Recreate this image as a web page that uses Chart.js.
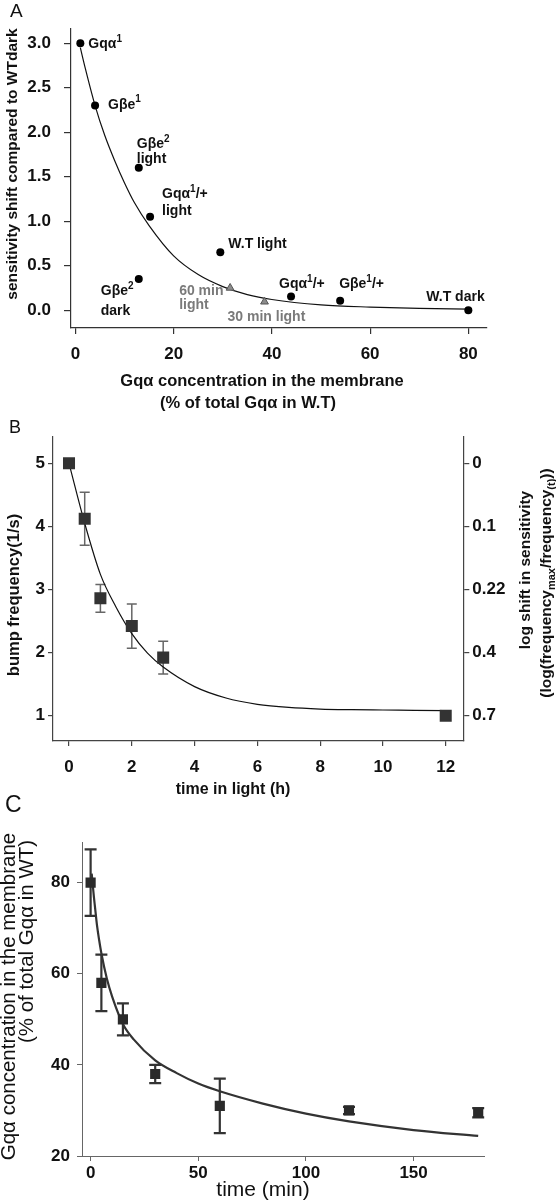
<!DOCTYPE html>
<html>
<head>
<meta charset="utf-8">
<script src="https://cdn.jsdelivr.net/npm/chart.js@4.4.0/dist/chart.umd.min.js"></script>
<style>
  html, body { margin: 0; padding: 0; background: #fff; }
  #wrap { position: relative; width: 556px; height: 1200px; overflow: hidden; }
  canvas { position: absolute; left: 0; }
</style>
</head>
<body>
<div id="wrap">
  <canvas id="chartA" width="556" height="420" style="top:0"></canvas>
  <canvas id="chartB" width="556" height="380" style="top:420px"></canvas>
  <canvas id="chartC" width="556" height="420" style="top:780px"></canvas>
</div>
<script>
/* =========================
   Data
========================= */
// A: sensitivity shift vs Gqα in the membrane
const aNames      = ['Gqα^{1}', 'Gβe^{1}', 'Gβe^{2}|light', 'Gqα^{1}/+|light', 'W.T light', 'Gβe^{2}|dark', 'Gqα^{1}/+', 'Gβe^{1}/+', 'W.T dark'];
const aConc       = [1, 4, 12.9, 15.2, 29.5, 12.9, 43.9, 53.9, 80];
const aShift      = [3.0, 2.3, 1.6, 1.05, 0.65, 0.35, 0.155, 0.105, 0.0];
const aLightNames = ['60 min|light', '30 min light'];
const aLightConc  = [31.5, 38.5];
const aLightShift = [0.25, 0.095];
const aFitConc    = [1, 2, 4, 6, 8, 10, 12, 15, 20, 25, 30, 35, 40, 50, 60, 70, 80];
const aFitShift   = [2.95, 2.72, 2.3, 1.96, 1.68, 1.43, 1.21, 0.95, 0.61, 0.4, 0.265, 0.175, 0.12, 0.06, 0.035, 0.02, 0.012];
const aXTicks     = [0, 20, 40, 60, 80];
const aYTicks     = [0, 0.5, 1, 1.5, 2, 2.5, 3];

// B: bump frequency vs time in light
const bTime     = [0, 0.5, 1, 2, 3, 12];
const bFreq     = [5.0, 4.12, 2.86, 2.42, 1.92, 1.0];
const bErr      = [0, 0.42, 0.22, 0.35, 0.26, 0.07];
const bFitTime  = [0, 0.5, 1, 1.5, 2, 2.5, 3, 4, 5, 6, 7, 8, 9, 10, 11, 12];
const bFitFreq  = [5.0, 4.05, 3.24, 2.72, 2.3, 1.99, 1.77, 1.46, 1.28, 1.18, 1.13, 1.105, 1.095, 1.09, 1.085, 1.08];
const bXTicks   = [0, 2, 4, 6, 8, 10, 12];
const bYTicks   = [1, 2, 3, 4, 5];
const bLogTicks = ['0.7', '0.4', '0.22', '0.1', '0'];

// C: Gqα in membrane vs time
const cTime    = [0, 5, 15, 30, 60, 120, 180];
const cConc    = [80, 58, 50, 38, 31, 30, 29.5];
const cErr     = [7.3, 6.2, 3.5, 2.0, 6.0, 0.8, 1.0];
const cFitTime = [0.5, 1, 1.5, 2, 3, 4, 5, 7.5, 10, 15, 20, 30, 40, 50, 60, 80, 100, 120, 150, 180];
const cFitConc = [82, 79.5, 77, 74.8, 70.5, 67.3, 64.5, 59, 55, 49, 45.6, 41, 38.2, 35.9, 34.2, 31.5, 29.3, 27.6, 25.7, 24.4];
const cXTicks  = [0, 50, 100, 150];
const cYTicks  = [20, 40, 60, 80];

const FONT   = "'Liberation Sans', Arial, sans-serif";
const FONT_N = "'Liberation Sans Narrow', 'Arial Narrow', 'Liberation Sans', sans-serif";
const UP = -Math.PI / 2;

/* =========================
   Helpers
========================= */
const pts = (xs, ys) => xs.map((x, i) => ({ x, y: ys[i] }));

// "Gqα^{1}" -> superscript, "f_{max}" -> subscript
function parse(str){
  const out = []; const re = /([\^_])\{([^}]*)\}/g; let last = 0, m;
  while ((m = re.exec(str))) {
    if (m.index > last) out.push({ t: str.slice(last, m.index) });
    out.push({ t: m[2], k: m[1] });
    last = re.lastIndex;
  }
  if (last < str.length) out.push({ t: str.slice(last) });
  return out;
}

function drawRich(ctx, str, x, y, st){
  const segs = parse(str);
  const w8 = st.weight || 'bold', fam = st.family || FONT;
  const big = `${w8} ${st.size}px ${fam}`;
  const small = `${w8} ${Math.round(st.size * 0.72)}px ${fam}`;
  let w = 0;
  segs.forEach(s => { ctx.font = s.k ? small : big; s.w = ctx.measureText(s.t).width; w += s.w; });
  ctx.save();
  ctx.translate(x, y);
  if (st.rot) ctx.rotate(st.rot);
  ctx.fillStyle = st.color || '#111';
  ctx.textAlign = 'left';
  ctx.textBaseline = st.base || 'alphabetic';
  let cx = st.align === 'center' ? -w / 2 : st.align === 'right' ? -w : 0;
  segs.forEach(s => {
    ctx.font = s.k ? small : big;
    const dy = s.k === '^' ? -st.size * 0.45 : s.k === '_' ? st.size * 0.3 : 0;
    ctx.fillText(s.t, cx, dy);
    cx += s.w;
  });
  ctx.restore();
}

function lin(min, max, ticks, o){
  return {
    type: 'linear', min, max, position: o.pos,
    afterBuildTicks: s => { s.ticks = ticks.map(v => ({ value: v })); },
    afterFit: s => { if (s.isHorizontal()) s.height = o.size; else s.width = o.size; },
    ticks: { font: o.font, color: '#111', padding: o.pad, autoSkip: false, maxRotation: 0,
             callback: o.cb || (v => v) },
    grid: { drawOnChartArea: false, drawTicks: true, tickLength: o.tl, color: o.line, lineWidth: o.lw },
    border: { color: o.line, width: o.lw }
  };
}

/* =========================
   Plugins
========================= */
const errPlugin = {
  id: 'errbars',
  beforeDatasetsDraw(chart, args, o){
    if (!o.xs) return;
    const { ctx, scales: { x, y } } = chart;
    ctx.save(); ctx.strokeStyle = o.color; ctx.lineWidth = o.width;
    o.xs.forEach((v, i) => {
      const e = o.err[i]; if (!e) return;
      const px = x.getPixelForValue(v);
      const top = y.getPixelForValue(o.ys[i] + e), bot = y.getPixelForValue(o.ys[i] - e);
      ctx.beginPath();
      ctx.moveTo(px, top); ctx.lineTo(px, bot);
      ctx.moveTo(px - o.cap, top); ctx.lineTo(px + o.cap, top);
      ctx.moveTo(px - o.cap, bot); ctx.lineTo(px + o.cap, bot);
      ctx.stroke();
    });
    ctx.restore();
  }
};

const textPlugin = {
  id: 'texts',
  afterDraw(chart, args, o){
    (o.items || []).forEach(it => drawRich(chart.ctx, it.s, it.x, it.y, it));
  }
};

// point annotations for panel A, placed relative to each point
const ptLabelPlugin = {
  id: 'ptlabels',
  afterDatasetsDraw(chart, args, o){
    const { ctx, scales: { x, y } } = chart;
    (o.sets || []).forEach(set => {
      set.names.forEach((name, i) => {
        const px = x.getPixelForValue(set.xs[i]), py = y.getPixelForValue(set.ys[i]);
        name.split('|').forEach((line, j) => {
          const [dx, dy] = set.offs[i][j];
          drawRich(ctx, line, px + dx, py + dy, { size: 14, color: set.color });
        });
      });
    });
  }
};

const base = {
  responsive: false, animation: false, events: [],
  plugins: { legend: { display: false }, tooltip: { enabled: false } }
};

/* =========================
   Panel A
========================= */
new Chart(document.getElementById('chartA'), {
  type: 'scatter',
  data: { datasets: [
    { data: pts(aConc, aShift), pointStyle: 'circle', pointRadius: 4, backgroundColor: '#000', borderWidth: 0, order: 1 },
    { data: pts(aLightConc, aLightShift), pointStyle: 'triangle', pointRadius: 4.5, backgroundColor: '#8c8c8c', borderColor: '#555', borderWidth: 1, order: 1 },
    { data: pts(aFitConc, aFitShift), showLine: true, pointRadius: 0, borderColor: '#111', borderWidth: 1.2, cubicInterpolationMode: 'monotone', order: 2 }
  ]},
  options: { ...base,
    layout: { padding: { top: 28.6, right: 69, left: 0, bottom: 0 } },
    scales: {
      x: lin(-0.9, 83.8, aXTicks, { size: 92, tl: 6, pad: 10, line: '#333', lw: 1.2, font: { family: FONT, size: 17, weight: 'bold' } }),
      y: lin(-0.2, 3.165, aYTicks, { size: 71, tl: 7, pad: 13, line: '#333', lw: 1.2, font: { family: FONT, size: 17, weight: 'bold' }, cb: v => v.toFixed(1) })
    },
    plugins: { ...base.plugins,
      ptlabels: { sets: [
        { names: aNames, xs: aConc, ys: aShift, color: '#111',
          offs: [[[8, 5]], [[13, 3]], [[-2, -19.5], [-2, -4.5]], [[12, -18.5], [12, -2]], [[8, -4]],
                 [[-38, 16], [-38, 36]], [[-12, -8]], [[-1, -13]], [[-42, -9]]] },
        { names: aLightNames, xs: aLightConc, ys: aLightShift, color: '#7a7a7a',
          offs: [[[-51, 7], [-51, 21]], [[-37, 19]]] }
      ]},
      texts: { items: [
        { s: 'A', x: 10, y: 17, size: 19, weight: 'normal' },
        { s: 'sensitivity shift compared to WTdark', x: 13, y: 164, size: 15.5, rot: UP, align: 'center', base: 'middle' },
        { s: 'Gqα concentration in the membrane', x: 262, y: 381, size: 16.5, align: 'center', base: 'middle' },
        { s: '(% of total Gqα in W.T)', x: 248, y: 403, size: 16.5, align: 'center', base: 'middle' }
      ]}
    }
  },
  plugins: [ptLabelPlugin, textPlugin]
});

/* =========================
   Panel B
========================= */
new Chart(document.getElementById('chartB'), {
  type: 'scatter',
  data: { datasets: [
    { data: pts(bTime, bFreq), pointStyle: 'rect', pointRadius: 8.5, backgroundColor: '#333', borderWidth: 0, order: 1 },
    { data: pts(bFitTime, bFitFreq), showLine: true, pointRadius: 0, borderColor: '#111', borderWidth: 1.2, cubicInterpolationMode: 'monotone', order: 2 }
  ]},
  options: { ...base,
    layout: { padding: { top: 16.2, right: 0, left: 0, bottom: 0 } },
    scales: {
      x: lin(-0.51, 12.56, bXTicks, { size: 59.1, tl: 5, pad: 11, line: '#444', lw: 1.2, font: { family: FONT, size: 17, weight: 'bold' } }),
      y: lin(0.6, 5.43, bYTicks, { size: 53, tl: 5, pad: 3, line: '#444', lw: 1.2, font: { family: FONT, size: 17, weight: 'bold' } }),
      y2: lin(0.6, 5.43, bYTicks, { pos: 'right', size: 92.7, tl: 6, pad: 3, line: '#444', lw: 1.2, font: { family: FONT, size: 17, weight: 'bold' }, cb: (v, i) => bLogTicks[i] })
    },
    plugins: { ...base.plugins,
      errbars: { xs: bTime, ys: bFreq, err: bErr, color: '#666', width: 1.5, cap: 5 },
      texts: { items: [
        { s: 'B', x: 9, y: 13, size: 18, weight: 'normal' },
        { s: 'bump frequency(1/s)', x: 14, y: 175, size: 16.5, rot: UP, align: 'center', base: 'middle' },
        { s: 'log shift in sensitivity', x: 526, y: 150, size: 15.5, rot: UP, align: 'center', base: 'middle' },
        { s: '(log(frequency_{max}/frequency_{(t)}))', x: 547, y: 163, size: 15.5, rot: UP, align: 'center', base: 'middle' },
        { s: 'time in light (h)', x: 233, y: 370, size: 16, align: 'center', base: 'middle' }
      ]}
    }
  },
  plugins: [errPlugin, textPlugin]
});

/* =========================
   Panel C
========================= */
new Chart(document.getElementById('chartC'), {
  type: 'scatter',
  data: { datasets: [
    { data: pts(cTime, cConc), pointStyle: 'rect', pointRadius: 7.2, backgroundColor: '#2a2a2a', borderWidth: 0, order: 1 },
    { data: pts(cFitTime, cFitConc), showLine: true, pointRadius: 0, borderColor: '#333', borderWidth: 2.2, cubicInterpolationMode: 'monotone', order: 2 }
  ]},
  options: { ...base,
    layout: { padding: { top: 62.6, right: 72, left: 0, bottom: 0 } },
    scales: {
      x: lin(-4, 182.7, cXTicks, { size: 44, tl: 5, pad: 2, line: '#666', lw: 1, font: { family: FONT_N, size: 17, weight: 'bold' } }),
      y: lin(20, 88.8, cYTicks, { size: 82, tl: 5, pad: 7, line: '#666', lw: 1, font: { family: FONT_N, size: 17, weight: 'bold' } })
    },
    plugins: { ...base.plugins,
      errbars: { xs: cTime, ys: cConc, err: cErr, color: '#333', width: 2.2, cap: 6 },
      texts: { items: [
        { s: 'C', x: 5, y: 32, size: 23, weight: 'normal' },
        { s: 'Gqα concentration in the membrane', x: 9, y: 216.5, size: 20.5, weight: 'normal', rot: UP, align: 'center', base: 'middle' },
        { s: '(% of total Gqα in WT)', x: 27, y: 161.5, size: 20.5, weight: 'normal', rot: UP, align: 'center', base: 'middle' },
        { s: 'time (min)', x: 263, y: 410, size: 21, weight: 'normal', align: 'center', base: 'middle' }
      ]}
    }
  },
  plugins: [errPlugin, textPlugin]
});
</script>
</body>
</html>
